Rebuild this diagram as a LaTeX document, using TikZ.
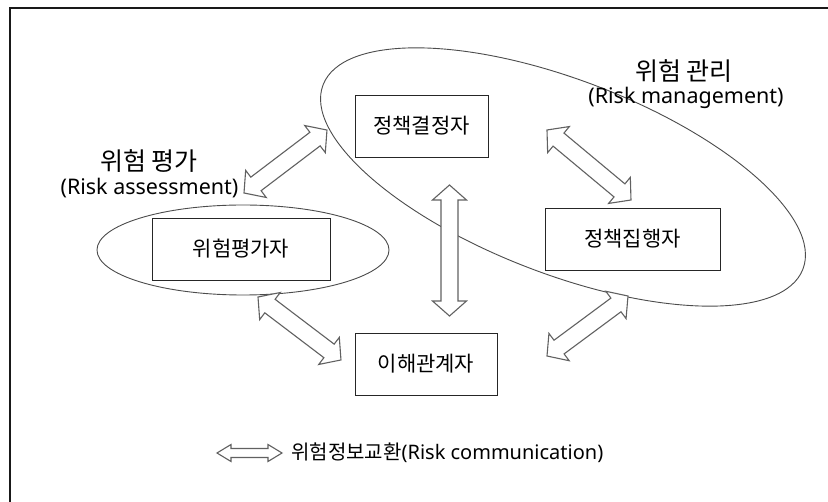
\documentclass[tikz,border=0pt]{standalone}
\usepackage{fontspec}
\setmainfont{Noto Sans}
\newfontfamily\kr{Noto Sans CJK KR}
\usetikzlibrary{calc}

% Outlined double-headed block arrow between two named points.
% #1 start, #2 end, #3 half shaft width, #4 half head width, #5 head length (pt)
\newcommand\blockarrow[5]{%
  \path let \p1=(#1), \p2=(#2) in \pgfextra{%
    \pgfmathsetmacro\baAng{atan2(\y2-\y1,\x2-\x1)}%
    \pgfmathsetmacro\baLen{veclen(\x2-\x1,\y2-\y1)}%
    \global\let\baAngG\baAng
    \global\let\baLenG\baLen};
  \draw[arrowline, shift={(#1)}, rotate=\baAngG]
    (0pt,0pt) -- (#5pt,#4pt) -- (#5pt,#3pt) -- (\baLenG pt-#5pt,#3pt)
    -- (\baLenG pt-#5pt,#4pt) -- (\baLenG pt,0pt) -- (\baLenG pt-#5pt,-#4pt)
    -- (\baLenG pt-#5pt,-#3pt) -- (#5pt,-#3pt) -- (#5pt,-#4pt) -- cycle;
}

\tikzset{
  box/.style={draw=black!85, line width=0.9pt, fill=white, inner sep=0pt,
    font=\kr\fontsize{21}{24}\selectfont},
  arrowline/.style={draw=black!62, line width=1.1pt, fill=white, line join=miter},
  region/.style={draw=black!70, line width=0.9pt},
  heading/.style={font=\kr\fontsize{25}{28}\selectfont, inner sep=0pt},
  subheading/.style={font=\fontsize{21.5}{25}\selectfont, inner sep=0pt},
  legendtext/.style={font=\fontsize{20}{24}\selectfont, inner sep=0pt, anchor=west},
}

\begin{document}
\begin{tikzpicture}[x=1pt, y=-1pt]
  \useasboundingbox (0,0) rectangle (828,502);
  \fill[white] (0,0) rectangle (828,502);

  % page frame
  \draw[black!90, line width=1.4pt] (10,502) -- (10,8) -- (828,8);

  % assessment and management regions
  \coordinate (mgmtc) at (563,177);
  \coordinate (assc) at (243,250);
  \draw[region, rotate around={-21:(mgmtc)}] (mgmtc) ellipse [x radius=257pt, y radius=97pt];
  \draw[region] (assc) ellipse [x radius=146pt, y radius=45pt];

  % actors
  \node[box, minimum width=133pt, minimum height=62pt] (dec) at (421.5,126) {정책결정자};
  \node[box, minimum width=175pt, minimum height=62pt] (exe) at (632.5,239) {정책집행자};
  \node[box, minimum width=178pt, minimum height=62pt] (ass) at (241,249) {위험평가자};
  \node[box, minimum width=142pt, minimum height=62pt] (stk) at (426,364) {이해관계자};

  % region labels
  \node[heading] (asshead) at (149,161) {위험 평가};
  \node[subheading] (asssub) at (149.5,188) {(Risk assessment)};
  \node[heading] (mgmthead) at (684,71) {위험 관리};
  \node[subheading] (mgmtsub) at (686,98) {(Risk management)};

  % arrow end points
  \coordinate (e1a) at (244,193);
  \coordinate (e1b) at (327,130);
  \coordinate (v1) at (449.5,185);
  \coordinate (v2) at (449.5,316);
  \coordinate (e3a) at (547,130);
  \coordinate (e3b) at (631,200);
  \coordinate (e4a) at (258,297);
  \coordinate (e4b) at (341,360);
  \coordinate (e5a) at (547,356);
  \coordinate (e5b) at (628,296);

  % risk communication links
  \blockarrow{e1a}{e1b}{8.5}{17}{15}
  \blockarrow{v1}{v2}{8.5}{17}{15}
  \blockarrow{e3a}{e3b}{8.5}{17}{15}
  \blockarrow{e4a}{e4b}{8.5}{17}{15}
  \blockarrow{e5a}{e5b}{8.5}{17}{15}

  % legend
  \coordinate (lg1) at (217,453);
  \coordinate (lg2) at (282,453);
  \blockarrow{lg1}{lg2}{4.5}{8.5}{14}
  \node[legendtext] (legend) at (291,453) {{\kr 위험정보교환}(Risk communication)};
\end{tikzpicture}
\end{document}
